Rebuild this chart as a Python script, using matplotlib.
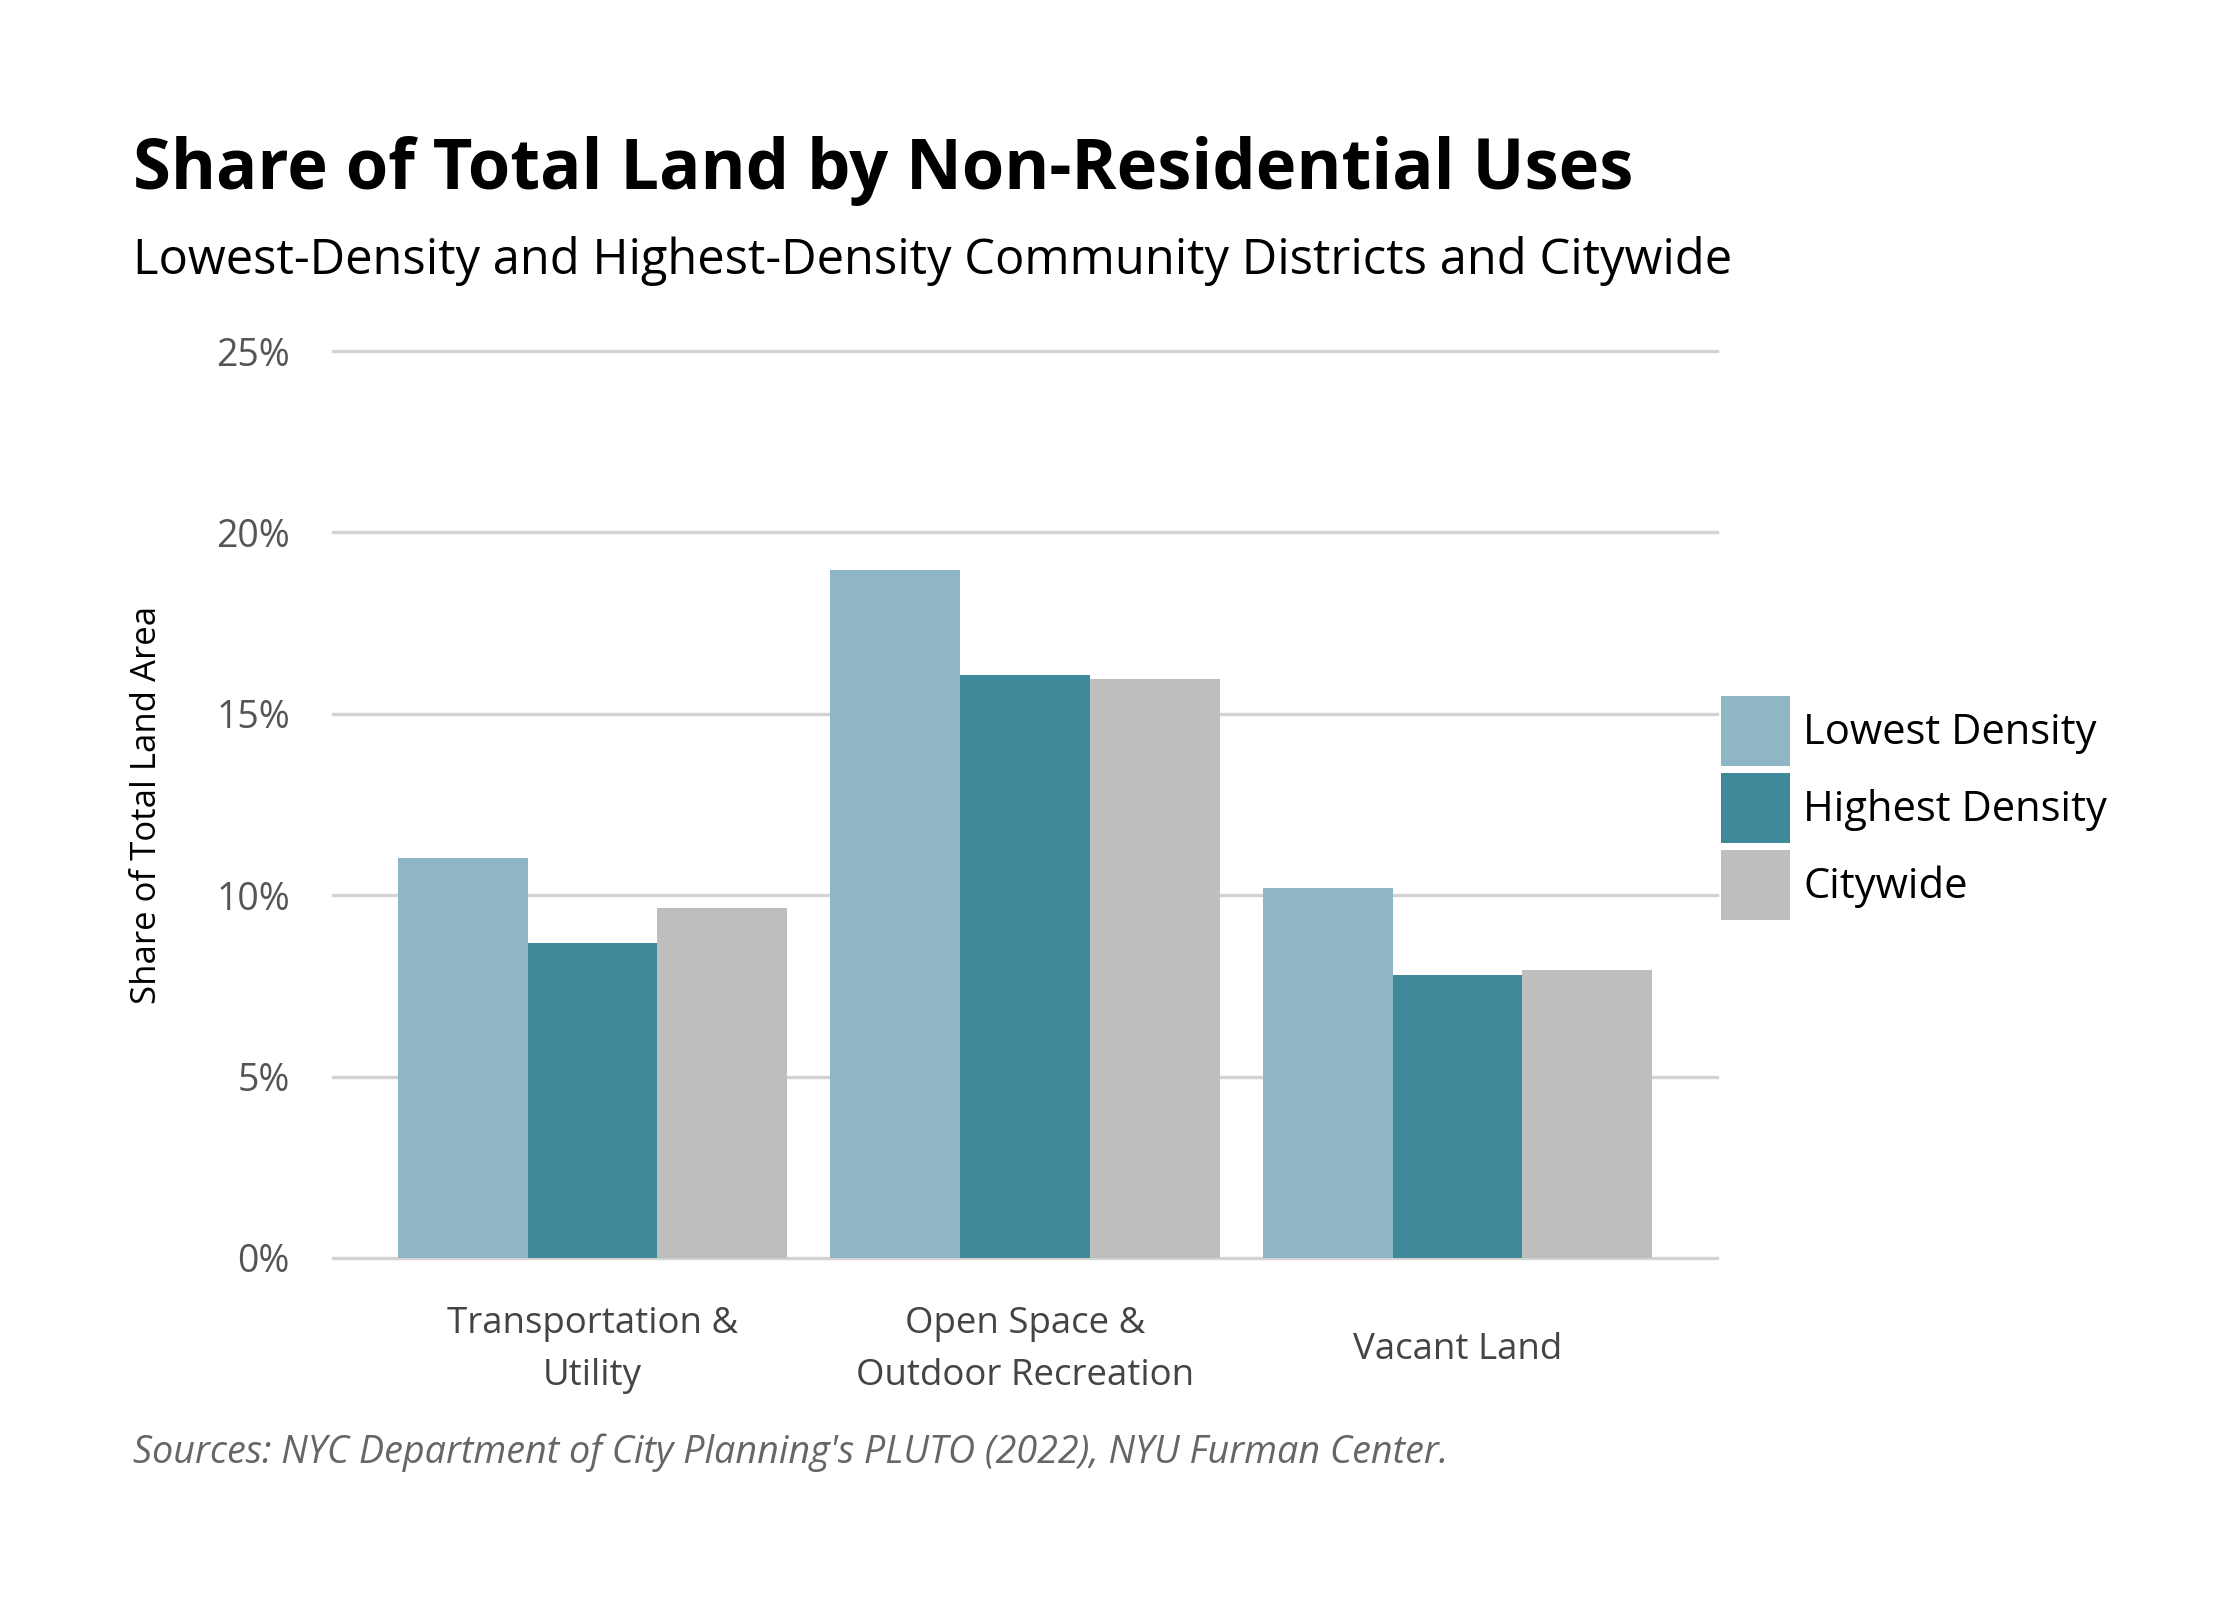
import matplotlib
matplotlib.use("Agg")
import matplotlib.pyplot as plt
import numpy as np
from matplotlib.patches import Patch

categories = ["Transportation &\nUtility", "Open Space &\nOutdoor Recreation", "Vacant Land"]
series_names = ["Lowest Density", "Highest Density", "Citywide"]
lowest = [11.02, 18.95, 10.19]
highest = [8.67, 16.08, 7.79]
citywide = [9.64, 15.97, 7.93]
colors = ["#8FB6C4", "#40899A", "#BEBEBE"]
yticks = [0, 5, 10, 15, 20, 25]
ytick_labels = ["0%", "5%", "10%", "15%", "20%", "25%"]

plt.rcParams['font.family'] = ['Open Sans', 'DejaVu Sans']

W, H = 2240, 1600
fig = plt.figure(figsize=(11.2, 8), dpi=200)
ax = fig.add_axes([333 / W, 1 - 1258 / H, (1717 - 333) / W, (1258 - 351) / H])

x = np.arange(len(categories))
bw = 0.3
for i, (vals, name, c) in enumerate(zip([lowest, highest, citywide], series_names, colors)):
    ax.bar(x + (i - 1) * bw, vals, width=bw, color=c, label=name, zorder=2, linewidth=0)

ax.set_xlim(-0.6, 2.6)
ax.set_ylim(0, 25)
ax.set_yticks(yticks)
ax.set_yticklabels(ytick_labels, fontsize=13.5, color="#555555")
ax.set_xticks(x)
ax.set_xticklabels(categories, fontsize=13.2, color="#444444", linespacing=1.6)
for lbl in ax.get_xticklabels():
    lbl.set_verticalalignment('center')
ax.tick_params(axis='both', length=0)
ax.tick_params(axis='y', pad=15.5)
ax.tick_params(axis='x', pad=33)
ax.grid(axis='y', color="#D3D3D3", linewidth=1.2, zorder=0)
ax.set_axisbelow(True)
for s in ax.spines.values():
    s.set_visible(False)
for gl in ax.get_ygridlines():
    gl.set_clip_on(False)

ax.set_ylabel("Share of Total Land Area", fontsize=12.5, color="black")
ax.yaxis.set_label_coords((164 - 333) / 1384, 0.5)

handles = [Patch(facecolor=c, edgecolor='none') for c in colors]
fig.legend(handles, series_names, loc='center left',
           bbox_to_anchor=(1700 / W, 1 - 808 / H), frameon=False,
           fontsize=15, handlelength=1.65, handleheight=2.21,
           labelspacing=0.167, handletextpad=0.33, borderpad=0)

fig.text(133 / W, 1 - 189 / H, "Share of Total Land by Non-Residential Uses",
         fontsize=24.7, fontweight='bold', color="black", ha='left', va='baseline')
fig.text(133 / W, 1 - 274 / H, "Lowest-Density and Highest-Density Community Districts and Citywide",
         fontsize=17.6, color="black", ha='left', va='baseline')
fig.text(133 / W, 1 - 1463 / H,
         "Sources: NYC Department of City Planning's PLUTO (2022), NYU Furman Center.",
         fontsize=13.6, style='italic', color="#666666", ha='left', va='baseline')

fig.savefig("out.png", dpi=200, facecolor='white')
